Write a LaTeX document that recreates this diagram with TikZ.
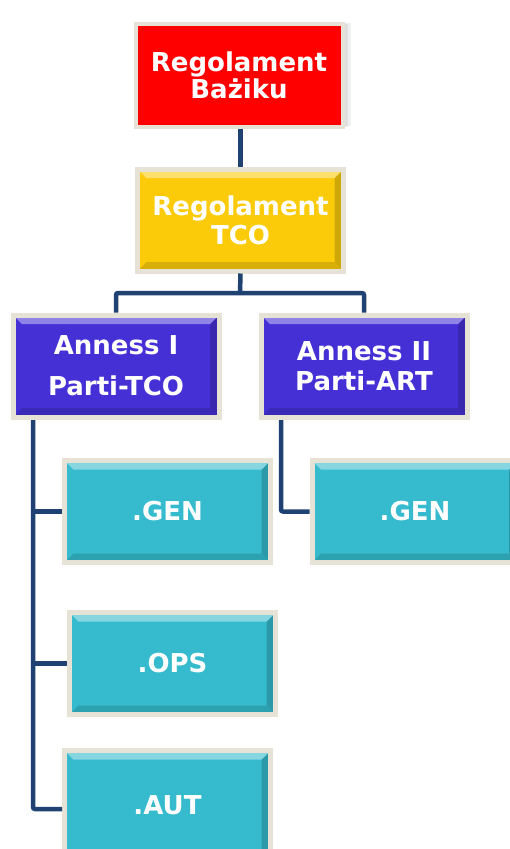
\documentclass[tikz,border=0pt]{standalone}
\usepackage{fontspec}
\setmainfont{DejaVu Sans}
\usepackage{xcolor}
\usepackage{tikz}
\usetikzlibrary{calc,shadows}
\definecolor{boxRed}{HTML}{FF0000}
\definecolor{boxGold}{HTML}{FBCB0A}
\definecolor{boxBlue}{HTML}{4530D6}
\definecolor{boxTeal}{HTML}{35BBCD}
\definecolor{frameLight}{HTML}{E6E3D6}
\definecolor{frameDark}{HTML}{5C5A52}
\definecolor{linkBlue}{HTML}{1F4272}
\tikzset{
  frame box/.style={
    shape=rectangle, minimum width=206pt, minimum height=102pt, inner sep=0pt,
    draw=frameLight, line width=5pt, fill=#1, text=white, align=center,
    font=\fontsize{26}{29}\selectfont\bfseries
  },
  soft shadow/.style={
    drop shadow={opacity=0.12, shadow xshift=8pt, shadow yshift=1pt},
    drop shadow={opacity=0.15, shadow xshift=5pt, shadow yshift=0pt},
    drop shadow={opacity=0.18, shadow xshift=2pt, shadow yshift=-1pt}
  },
  bevel box/.style={
    frame box=#1,
    append after command={\pgfextra{
      \draw[frameDark, fill=none, line width=1.6pt]
        ([shift={(-0.8pt,-1pt)}]\tikzlastnode.north east)
        -- ([shift={(-0.8pt,0.8pt)}]\tikzlastnode.south east)
        -- ([shift={(1pt,0.8pt)}]\tikzlastnode.south west);
    }},
    path picture={
      \path (path picture bounding box.south west) coordinate (bb-sw)
            (path picture bounding box.north east) coordinate (bb-ne);
      \fill[#1!82!black] (bb-ne) -- (bb-sw -| bb-ne)
        -- ($(bb-sw -| bb-ne)+(-9pt,9pt)$) -- ($(bb-ne)+(-9pt,-9pt)$) -- cycle;
      \fill[#1!86!black] (bb-sw) -- (bb-sw -| bb-ne)
        -- ($(bb-sw -| bb-ne)+(-9pt,9pt)$) -- ($(bb-sw)+(9pt,9pt)$) -- cycle;
      \fill[#1!60!white] (bb-sw |- bb-ne) -- (bb-ne)
        -- ($(bb-ne)+(-9pt,-9pt)$) -- ($(bb-sw |- bb-ne)+(9pt,-9pt)$) -- cycle;
    }
  },
  link/.style={draw=linkBlue, line width=4.5pt, rounded corners=2pt}
}
\begin{document}
\begin{tikzpicture}[x=1pt,y=-1pt]
  \useasboundingbox (0,0) rectangle (510,849);
  \clip (0,0) rectangle (510,849);
  % boxes
  \node[frame box=boxRed, soft shadow, line width=4pt, minimum width=207pt, minimum height=103pt]
    (bazic) at (239,75) {Regolament\\[-2pt]Bażiku};
  \node[bevel box=boxGold] (tco) at (240.5,220) {Regolament\\[0pt]TCO};
  \node[bevel box=boxBlue] (annexI) at (116,366) {Anness I\\[12pt]Parti-TCO};
  \node[bevel box=boxBlue] (annexII) at (364,366) {Anness II\\[1pt]Parti-ART};
  \node[bevel box=boxTeal] (genI) at (167.5,511.5) {.GEN};
  \node[bevel box=boxTeal] (ops) at (172.5,663.5) {.OPS};
  \node[bevel box=boxTeal, minimum height=110pt] (aut) at (167.5,805.5) {.AUT};
  \node[bevel box=boxTeal] (genII) at (415,511.5) {.GEN};
  % links
  \coordinate (split) at (240,293);
  \coordinate (trunkI) at (33,420);
  \coordinate (trunkII) at (281,420);
  \draw[link] (bazic.south -| tco.north) -- (tco.north);
  \draw[link] (tco.south) -- (split);
  \draw[link] (annexI.north) |- (split) -| (annexII.north);
  \draw[link] (trunkI) |- ([yshift=-3.5pt]aut.west);
  \draw[link] (trunkI |- genI.west) -- (genI.west);
  \draw[link] (trunkI |- ops.west) -- (ops.west);
  \draw[link] (trunkII) |- (genII.west);
\end{tikzpicture}
\end{document}
